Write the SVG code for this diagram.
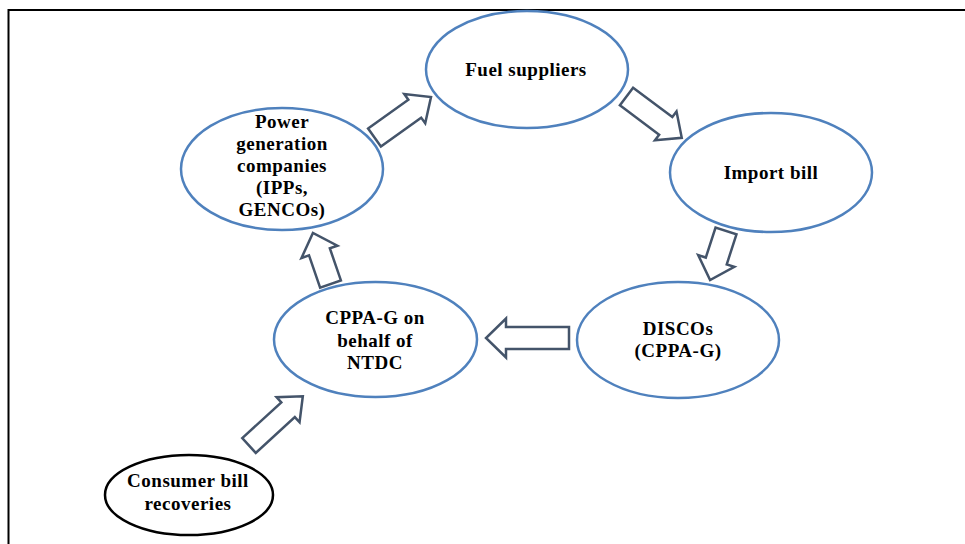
<svg xmlns="http://www.w3.org/2000/svg" width="965" height="544" viewBox="0 0 965 544">
<style>
.n{fill:#fff;stroke:#4F81BD;stroke-width:2.5}
.k{fill:#fff;stroke:#000;stroke-width:2.5}
.a{fill:#fff;stroke:#44546A;stroke-width:2.5;stroke-linejoin:miter}
text{font-family:"Liberation Serif","Times New Roman",serif;font-weight:bold;font-size:19px;letter-spacing:0.5px;fill:#000;text-anchor:middle}
</style>
<rect width="965" height="544" fill="#fff"/>
<path d="M8.5,544 V10 H965" fill="none" stroke="#000" stroke-width="2"/>
<g id="connectors">
<path class="a" transform="translate(374.5,137.5) rotate(-35.6)" d="M0,-11 H49.5 V-18 L69.5,0 L49.5,18 V11 H0 Z"/>
<path class="a" transform="translate(626.5,96.5) rotate(36.8)" d="M0,-11 H49 V-18 L69,0 L49,18 V11 H0 Z"/>
<path class="a" transform="translate(726,231) rotate(108)" d="M0,-11 H31.5 V-19 L51.5,0 L31.5,19 V11 H0 Z"/>
<path class="a" transform="translate(569,338) rotate(180)" d="M0,-11 H63 V-19.5 L83,0 L63,19.5 V11 H0 Z"/>
<path class="a" transform="translate(330.5,284) rotate(-109)" d="M0,-11 H34 V-19 L54,0 L34,19 V11 H0 Z"/>
<path class="a" transform="translate(249,445.5) rotate(-42.5)" d="M0,-10 H53 V-17 L73,0 L53,17 V10 H0 Z"/>
</g>
<g id="fuel">
<ellipse class="n" cx="527" cy="69.5" rx="101" ry="58.5"/>
<text x="526" y="76">Fuel suppliers</text>
</g>
<g id="import">
<ellipse class="n" cx="771" cy="172.5" rx="101" ry="59.5"/>
<text x="771" y="179">Import bill</text>
</g>
<g id="discos">
<ellipse class="n" cx="678" cy="340" rx="101" ry="58"/>
<text x="678" y="335">DISCOs</text>
<text x="678" y="357">(CPPA-G)</text>
</g>
<g id="cppa">
<ellipse class="n" cx="375.5" cy="339.5" rx="101.5" ry="57.5"/>
<text x="375" y="324">CPPA-G on</text>
<text x="375" y="347">behalf of</text>
<text x="375" y="369">NTDC</text>
</g>
<g id="power">
<ellipse class="n" cx="282" cy="169" rx="101" ry="61"/>
<text x="282" y="128">Power</text>
<text x="282" y="150">generation</text>
<text x="282" y="172">companies</text>
<text x="282" y="194">(IPPs,</text>
<text x="282" y="216">GENCOs)</text>
</g>
<g id="consumer">
<ellipse class="k" cx="189" cy="495" rx="84" ry="40"/>
<text x="188" y="487">Consumer bill</text>
<text x="188" y="510">recoveries</text>
</g>
</svg>
